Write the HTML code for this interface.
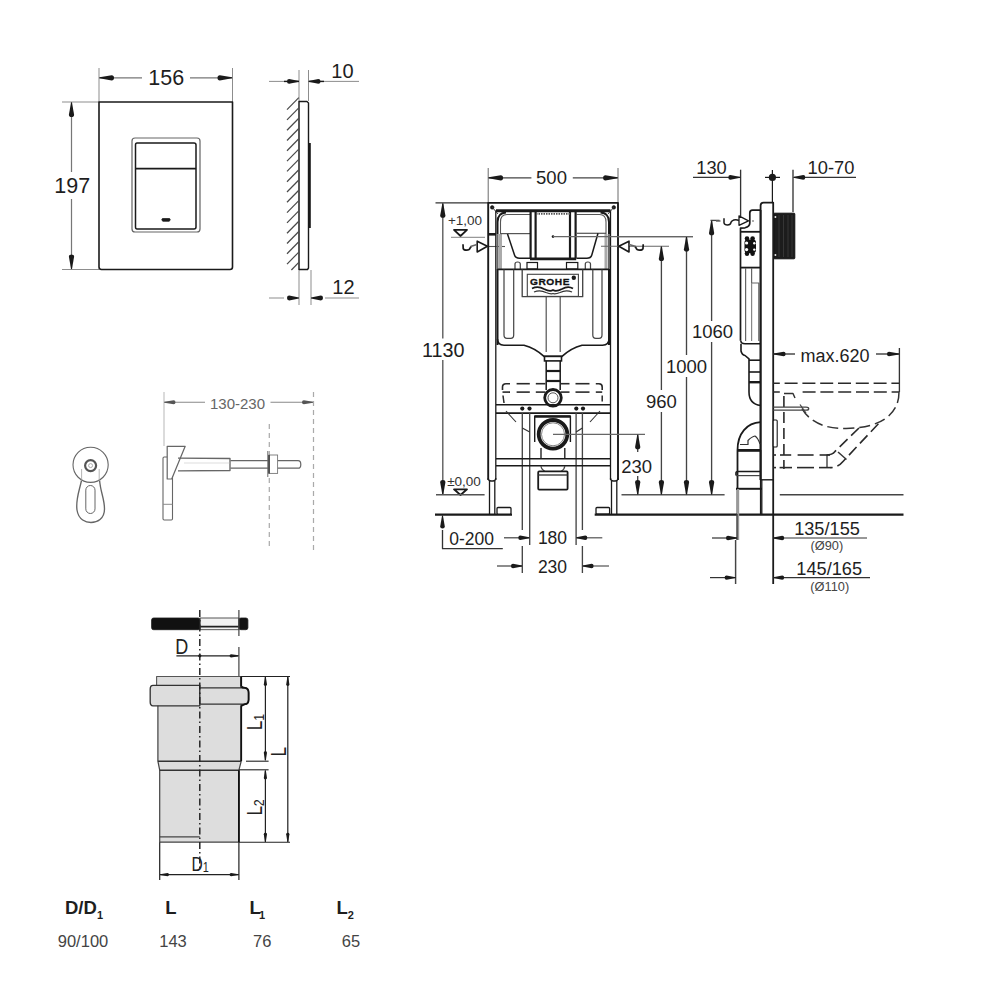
<!DOCTYPE html>
<html><head><meta charset="utf-8"><style>html,body{margin:0;padding:0;background:#fff;}svg{display:block;}</style></head>
<body><svg width="1000" height="1000" viewBox="0 0 1000 1000">
<rect width="1000" height="1000" fill="#fff"/>
<line x1="99" y1="68" x2="99" y2="102" stroke="#8a8a8a" stroke-width="0.98" stroke-linecap="butt"/>
<line x1="232.5" y1="68" x2="232.5" y2="102" stroke="#8a8a8a" stroke-width="0.98" stroke-linecap="butt"/>
<line x1="62" y1="102" x2="99" y2="102" stroke="#8a8a8a" stroke-width="0.98" stroke-linecap="butt"/>
<line x1="62" y1="269.5" x2="99" y2="269.5" stroke="#8a8a8a" stroke-width="0.98" stroke-linecap="butt"/>
<line x1="99" y1="77.8" x2="142" y2="77.8" stroke="#777" stroke-width="1.22" stroke-linecap="butt"/>
<line x1="190" y1="77.8" x2="232.5" y2="77.8" stroke="#777" stroke-width="1.22" stroke-linecap="butt"/>
<path d="M0,-0.45 L12.16,-2.60 Q14.50,-2.60 14.50,0 Q14.50,2.60 12.16,2.60 L0,0.45 Z" fill="#1a1a1a" stroke="none" transform="translate(99.5,77.8) rotate(0)"/>
<path d="M0,-0.45 L12.16,-2.60 Q14.50,-2.60 14.50,0 Q14.50,2.60 12.16,2.60 L0,0.45 Z" fill="#1a1a1a" stroke="none" transform="translate(232,77.8) rotate(180)"/>
<text x="166.3" y="85.2" font-family="Liberation Sans" font-size="21.5" text-anchor="middle" font-weight="normal" fill="#1e1e1e">156</text>
<line x1="71.5" y1="102" x2="71.5" y2="172" stroke="#777" stroke-width="1.22" stroke-linecap="butt"/>
<line x1="71.5" y1="199" x2="71.5" y2="269.5" stroke="#777" stroke-width="1.22" stroke-linecap="butt"/>
<path d="M0,-0.45 L12.16,-2.60 Q14.50,-2.60 14.50,0 Q14.50,2.60 12.16,2.60 L0,0.45 Z" fill="#1a1a1a" stroke="none" transform="translate(71.5,102.5) rotate(90)"/>
<path d="M0,-0.45 L12.16,-2.60 Q14.50,-2.60 14.50,0 Q14.50,2.60 12.16,2.60 L0,0.45 Z" fill="#1a1a1a" stroke="none" transform="translate(71.5,269) rotate(-90)"/>
<text x="72.3" y="193.2" font-family="Liberation Sans" font-size="21.5" text-anchor="middle" font-weight="normal" fill="#1e1e1e">197</text>
<path d="M99,102 L232.5,102 L232.5,267 Q232.5,269.5 230,269.5 L101.5,269.5 Q99,269.5 99,267 Z" fill="none" stroke="#1a1a1a" stroke-width="1.6" stroke-linejoin="round"/>
<path d="M135,138 L197,138 Q200,138 200,141 L200,229 Q200,232 197,232 L135,232 Q132,232 132,229 L132,141 Q132,138 135,138 Z" fill="none" stroke="#666" stroke-width="1.22" stroke-linejoin="round"/>
<path d="M137,143 L194,143 Q196,143 196,145 L196,227 Q196,229 194,229 L137,229 Q135.5,229 135.5,227 L135.5,145 Q135.5,143 137,143 Z" fill="none" stroke="#1a1a1a" stroke-width="1.5" stroke-linejoin="round"/>
<line x1="135.5" y1="168.6" x2="196" y2="168.6" stroke="#1a1a1a" stroke-width="1.6" stroke-linecap="butt"/>
<path d="M162.5,218.5 L169.5,218.5 Q170.5,218.5 170,220.5 L169,221.3 L163,221.3 L162,220.5 Q161.5,218.5 162.5,218.5 Z" fill="#1a1a1a" stroke="#1a1a1a" stroke-width="0.73" stroke-linejoin="round"/>
<line x1="299" y1="70" x2="299" y2="101" stroke="#8a8a8a" stroke-width="0.98" stroke-linecap="butt"/>
<line x1="308.5" y1="70" x2="308.5" y2="101" stroke="#8a8a8a" stroke-width="0.98" stroke-linecap="butt"/>
<line x1="299" y1="270" x2="299" y2="305" stroke="#8a8a8a" stroke-width="0.98" stroke-linecap="butt"/>
<line x1="311" y1="270" x2="311" y2="305" stroke="#8a8a8a" stroke-width="0.98" stroke-linecap="butt"/>
<line x1="269" y1="81.4" x2="284" y2="81.4" stroke="#8a8a8a" stroke-width="0.98" stroke-linecap="butt"/>
<line x1="324" y1="81.4" x2="359" y2="81.4" stroke="#8a8a8a" stroke-width="0.98" stroke-linecap="butt"/>
<line x1="284" y1="81.4" x2="299" y2="81.4" stroke="#1a1a1a" stroke-width="1.46" stroke-linecap="butt"/>
<line x1="309" y1="81.4" x2="324" y2="81.4" stroke="#1a1a1a" stroke-width="1.46" stroke-linecap="butt"/>
<path d="M0,-0.45 L9.84,-2.40 Q12.00,-2.40 12.00,0 Q12.00,2.40 9.84,2.40 L0,0.45 Z" fill="#1a1a1a" stroke="none" transform="translate(299,81.4) rotate(180)"/>
<path d="M0,-0.45 L9.84,-2.40 Q12.00,-2.40 12.00,0 Q12.00,2.40 9.84,2.40 L0,0.45 Z" fill="#1a1a1a" stroke="none" transform="translate(308.5,81.4) rotate(0)"/>
<text x="342.4" y="78" font-family="Liberation Sans" font-size="20" text-anchor="middle" font-weight="normal" fill="#1e1e1e">10</text>
<line x1="269" y1="298" x2="284" y2="298" stroke="#8a8a8a" stroke-width="0.98" stroke-linecap="butt"/>
<line x1="325" y1="298" x2="359" y2="298" stroke="#8a8a8a" stroke-width="0.98" stroke-linecap="butt"/>
<path d="M0,-0.45 L9.84,-2.40 Q12.00,-2.40 12.00,0 Q12.00,2.40 9.84,2.40 L0,0.45 Z" fill="#1a1a1a" stroke="none" transform="translate(299,298) rotate(180)"/>
<path d="M0,-0.45 L9.84,-2.40 Q12.00,-2.40 12.00,0 Q12.00,2.40 9.84,2.40 L0,0.45 Z" fill="#1a1a1a" stroke="none" transform="translate(311,298) rotate(0)"/>
<text x="343.4" y="293.6" font-family="Liberation Sans" font-size="20" text-anchor="middle" font-weight="normal" fill="#1e1e1e">12</text>
<line x1="299" y1="101" x2="299" y2="270" stroke="#1a1a1a" stroke-width="1.46" stroke-linecap="butt"/>
<line x1="287" y1="109.6" x2="298.8" y2="97.6" stroke="#4a4a4a" stroke-width="1.22" stroke-linecap="butt"/>
<line x1="287" y1="119.89999999999999" x2="298.8" y2="107.89999999999999" stroke="#4a4a4a" stroke-width="1.22" stroke-linecap="butt"/>
<line x1="287" y1="130.2" x2="298.8" y2="118.19999999999999" stroke="#4a4a4a" stroke-width="1.22" stroke-linecap="butt"/>
<line x1="287" y1="140.5" x2="298.8" y2="128.5" stroke="#4a4a4a" stroke-width="1.22" stroke-linecap="butt"/>
<line x1="287" y1="150.8" x2="298.8" y2="138.8" stroke="#4a4a4a" stroke-width="1.22" stroke-linecap="butt"/>
<line x1="287" y1="161.1" x2="298.8" y2="149.1" stroke="#4a4a4a" stroke-width="1.22" stroke-linecap="butt"/>
<line x1="287" y1="171.4" x2="298.8" y2="159.4" stroke="#4a4a4a" stroke-width="1.22" stroke-linecap="butt"/>
<line x1="287" y1="181.7" x2="298.8" y2="169.7" stroke="#4a4a4a" stroke-width="1.22" stroke-linecap="butt"/>
<line x1="287" y1="192.0" x2="298.8" y2="180.0" stroke="#4a4a4a" stroke-width="1.22" stroke-linecap="butt"/>
<line x1="287" y1="202.3" x2="298.8" y2="190.3" stroke="#4a4a4a" stroke-width="1.22" stroke-linecap="butt"/>
<line x1="287" y1="212.6" x2="298.8" y2="200.6" stroke="#4a4a4a" stroke-width="1.22" stroke-linecap="butt"/>
<line x1="287" y1="222.9" x2="298.8" y2="210.9" stroke="#4a4a4a" stroke-width="1.22" stroke-linecap="butt"/>
<line x1="287" y1="233.2" x2="298.8" y2="221.2" stroke="#4a4a4a" stroke-width="1.22" stroke-linecap="butt"/>
<line x1="287" y1="243.5" x2="298.8" y2="231.5" stroke="#4a4a4a" stroke-width="1.22" stroke-linecap="butt"/>
<line x1="287" y1="253.8" x2="298.8" y2="241.8" stroke="#4a4a4a" stroke-width="1.22" stroke-linecap="butt"/>
<line x1="287" y1="264.1" x2="298.8" y2="252.1" stroke="#4a4a4a" stroke-width="1.22" stroke-linecap="butt"/>
<line x1="291.4" y1="270" x2="298.8" y2="262.4" stroke="#4a4a4a" stroke-width="1.22" stroke-linecap="butt"/>
<path d="M299,101.5 L307,101.5 L308.5,103 L308.5,268 L307.5,269.5 L299,269.5" fill="none" stroke="#1a1a1a" stroke-width="1.4" stroke-linejoin="round"/>
<line x1="309.8" y1="143" x2="309.8" y2="228" stroke="#1a1a1a" stroke-width="2.0" stroke-linecap="butt"/>
<circle cx="90.6" cy="464.8" r="17.6" fill="none" stroke="#666" stroke-width="1.1"/>
<circle cx="90.6" cy="465.6" r="5.5" fill="none" stroke="#555" stroke-width="2.2"/>
<circle cx="90.6" cy="465.6" r="2" fill="none" stroke="#999" stroke-width="0.8"/>
<path d="M81.5,480.5 C79,492 75.5,500 77,510 C78.5,520 86,522.5 91,522.5 C97,522.5 104.5,519 104.5,509 C104.5,499 100.5,492 99.6,480.5" fill="none" stroke="#666" stroke-width="1.34" stroke-linejoin="round"/>
<path d="M81.6,469 L81.6,481 M99.2,469 L99.2,481" fill="none" stroke="#999" stroke-width="0.73" stroke-linejoin="round"/>
<rect x="85.8" y="485.5" width="9.2" height="28" rx="4.6" fill="none" stroke="#666" stroke-width="1"/>
<line x1="164" y1="392" x2="164" y2="446" stroke="#aaa" stroke-width="0.85" stroke-linecap="butt"/>
<line x1="164" y1="402.2" x2="205" y2="402.2" stroke="#888" stroke-width="1.1" stroke-linecap="butt"/>
<line x1="270.5" y1="402.2" x2="313.5" y2="402.2" stroke="#888" stroke-width="1.1" stroke-linecap="butt"/>
<path d="M0,-0.45 L9.20,-2.00 Q11.00,-2.00 11.00,0 Q11.00,2.00 9.20,2.00 L0,0.45 Z" fill="#555" stroke="none" transform="translate(164.5,402.2) rotate(0)"/>
<path d="M0,-0.45 L9.20,-2.00 Q11.00,-2.00 11.00,0 Q11.00,2.00 9.20,2.00 L0,0.45 Z" fill="#555" stroke="none" transform="translate(313,402.2) rotate(180)"/>
<text x="237.5" y="408.8" font-family="Liberation Sans" font-size="15" text-anchor="middle" font-weight="normal" fill="#666">130-230</text>
<line x1="313.5" y1="392" x2="313.5" y2="550" stroke="#aaa" stroke-width="1.22" stroke-linecap="butt" stroke-dasharray="5,4"/>
<line x1="269.3" y1="424" x2="269.3" y2="548" stroke="#aaa" stroke-width="1.22" stroke-linecap="butt" stroke-dasharray="5,4"/>
<rect x="163" y="457" width="9.5" height="63" rx="1.2" fill="none" stroke="#666" stroke-width="1.1"/>
<line x1="163" y1="504.3" x2="172.5" y2="504.3" stroke="#888" stroke-width="0.98" stroke-linecap="butt"/>
<path d="M167.2,479 L167.2,446.3 L185.2,446.3 L171.7,479 Z" fill="white" stroke="#666" stroke-width="1.22" stroke-linejoin="round"/>
<path d="M178,458.2 L230,458.5 L230,470.5 L178,470.8" fill="none" stroke="#666" stroke-width="1.34" stroke-linejoin="round"/>
<line x1="184" y1="463" x2="230" y2="463" stroke="#bbb" stroke-width="0.49" stroke-linecap="butt"/>
<path d="M230.5,460.6 L298,460.6 Q300.8,460.6 300.8,464.4 Q300.8,468.2 298,468.2 L230.5,468.2" fill="none" stroke="#666" stroke-width="1.22" stroke-linejoin="round"/>
<rect x="269" y="455" width="8.6" height="18.4" rx="0" fill="white" stroke="#777" stroke-width="0.9"/>
<line x1="269" y1="455" x2="269" y2="473.4" stroke="#444" stroke-width="1.8" stroke-linecap="butt"/>
<line x1="267.8" y1="451" x2="267.8" y2="477" stroke="#666" stroke-width="0.98" stroke-linecap="butt"/>
<rect x="151.6" y="618" width="48.6" height="11.7" rx="2" fill="#111" stroke="#1a1a1a" stroke-width="0.8"/>
<rect x="200.2" y="618" width="38.7" height="11.7" rx="0" fill="#f2f2f2" stroke="#444" stroke-width="0.9"/>
<line x1="200.2" y1="626.6" x2="238.9" y2="626.6" stroke="#222" stroke-width="1.6" stroke-linecap="butt"/>
<rect x="238.9" y="618" width="9" height="11.7" rx="2" fill="#111" stroke="#1a1a1a" stroke-width="0.8"/>
<line x1="238.9" y1="610" x2="238.9" y2="636" stroke="#444" stroke-width="1.22" stroke-linecap="butt"/>
<line x1="238.9" y1="647" x2="238.9" y2="703" stroke="#444" stroke-width="1.22" stroke-linecap="butt"/>
<text x="181.7" y="653.6" font-family="Liberation Sans" font-size="21.5" text-anchor="middle" font-weight="normal" fill="#222" transform="translate(181.7,0) scale(0.84,1) translate(-181.7,0)">D</text>
<line x1="176.4" y1="655.8" x2="238" y2="655.8" stroke="#222" stroke-width="1.22" stroke-linecap="butt"/>
<circle cx="199.8" cy="655.8" r="1.6" fill="#1a1a1a" stroke="#1a1a1a" stroke-width="0"/>
<path d="M0,-0.45 L7.56,-1.60 Q9.00,-1.60 9.00,0 Q9.00,1.60 7.56,1.60 L0,0.45 Z" fill="#1a1a1a" stroke="none" transform="translate(238.6,655.8) rotate(180)"/>
<path d="M157.9,700 L241.2,700 L241.2,761.2 L238.9,770.2 L238.9,842.2 L159.7,842.2 L159.7,770.2 L157.9,761.2 Z" fill="#dddddd" stroke="#444" stroke-width="1.22" stroke-linejoin="round"/>
<path d="M156.6,690 L156.6,676.5 L240.7,676.5 L240.7,690" fill="#dddddd" stroke="#555" stroke-width="1.1" stroke-linejoin="round"/>
<path d="M153,685.4 L199.8,685.4 L199.8,705.8 L153,705.8 Q150.2,705.8 150.2,702 L150.2,689.2 Q150.2,685.4 153,685.4 Z" fill="#dddddd" stroke="#333" stroke-width="1.34" stroke-linejoin="round"/>
<path d="M199.8,687.8 L244.5,687.8 Q248.6,687.8 248.6,692 L248.6,700 Q248.6,704.2 244.5,704.2 L199.8,704.2 Z" fill="#dddddd" stroke="#333" stroke-width="1.34" stroke-linejoin="round"/>
<line x1="157.9" y1="761.2" x2="241.2" y2="761.2" stroke="#333" stroke-width="1.46" stroke-linecap="butt"/>
<line x1="159.7" y1="770.2" x2="238.9" y2="770.2" stroke="#333" stroke-width="1.46" stroke-linecap="butt"/>
<line x1="159.7" y1="836.8" x2="199.8" y2="836.8" stroke="#444" stroke-width="1.22" stroke-linecap="butt"/>
<line x1="241.2" y1="676.5" x2="241.2" y2="686.5" stroke="#111" stroke-width="1.8" stroke-linecap="butt"/>
<line x1="241.2" y1="705.5" x2="241.2" y2="761" stroke="#111" stroke-width="1.8" stroke-linecap="butt"/>
<line x1="238.9" y1="770.2" x2="238.9" y2="842.2" stroke="#111" stroke-width="1.8" stroke-linecap="butt"/>
<path d="M241.2,686.5 Q242.5,687.8 245,687.9 Q248.6,688.3 248.6,693 L248.6,699.5 Q248.6,704 245,704.2 L241.2,705.8" fill="none" stroke="#111" stroke-width="1.8" stroke-linejoin="round"/>
<line x1="199.8" y1="610" x2="199.8" y2="870" stroke="#222" stroke-width="1.46" stroke-linecap="butt" stroke-dasharray="7,3,1.5,3"/>
<line x1="241" y1="676.5" x2="290" y2="676.5" stroke="#222" stroke-width="1.1" stroke-linecap="butt"/>
<line x1="265.4" y1="677" x2="265.4" y2="760.3" stroke="#222" stroke-width="1.22" stroke-linecap="butt"/>
<path d="M0,-0.45 L7.56,-1.60 Q9.00,-1.60 9.00,0 Q9.00,1.60 7.56,1.60 L0,0.45 Z" fill="#1a1a1a" stroke="none" transform="translate(265.4,677) rotate(90)"/>
<path d="M0,-0.45 L7.56,-1.60 Q9.00,-1.60 9.00,0 Q9.00,1.60 7.56,1.60 L0,0.45 Z" fill="#1a1a1a" stroke="none" transform="translate(265.4,760.3) rotate(-90)"/>
<line x1="246" y1="761.2" x2="268.6" y2="761.2" stroke="#222" stroke-width="1.1" stroke-linecap="butt"/>
<line x1="239" y1="769.8" x2="268.6" y2="769.8" stroke="#222" stroke-width="1.1" stroke-linecap="butt"/>
<line x1="265.4" y1="770.5" x2="265.4" y2="842" stroke="#222" stroke-width="1.22" stroke-linecap="butt"/>
<path d="M0,-0.45 L7.56,-1.60 Q9.00,-1.60 9.00,0 Q9.00,1.60 7.56,1.60 L0,0.45 Z" fill="#1a1a1a" stroke="none" transform="translate(265.4,770.5) rotate(90)"/>
<path d="M0,-0.45 L7.56,-1.60 Q9.00,-1.60 9.00,0 Q9.00,1.60 7.56,1.60 L0,0.45 Z" fill="#1a1a1a" stroke="none" transform="translate(265.4,841.7) rotate(-90)"/>
<line x1="287.8" y1="677" x2="287.8" y2="842" stroke="#222" stroke-width="1.22" stroke-linecap="butt"/>
<path d="M0,-0.45 L7.56,-1.60 Q9.00,-1.60 9.00,0 Q9.00,1.60 7.56,1.60 L0,0.45 Z" fill="#1a1a1a" stroke="none" transform="translate(287.8,677) rotate(90)"/>
<path d="M0,-0.45 L7.56,-1.60 Q9.00,-1.60 9.00,0 Q9.00,1.60 7.56,1.60 L0,0.45 Z" fill="#1a1a1a" stroke="none" transform="translate(287.8,841.7) rotate(-90)"/>
<line x1="239" y1="842.2" x2="290" y2="842.2" stroke="#222" stroke-width="1.1" stroke-linecap="butt"/>
<text x="0" y="0" font-family="Liberation Sans" font-size="21.3" fill="#222" transform="translate(262,730.3) rotate(-90) scale(0.8,1)"><tspan>L</tspan><tspan font-size="15.5" dy="2">1</tspan></text>
<text x="0" y="0" font-family="Liberation Sans" font-size="21.3" fill="#222" transform="translate(285.5,756.6) rotate(-90) scale(0.8,1)"><tspan>L</tspan></text>
<text x="0" y="0" font-family="Liberation Sans" font-size="21.3" fill="#222" transform="translate(261.5,815.6) rotate(-90) scale(0.8,1)"><tspan>L</tspan><tspan font-size="15.5" dy="2">2</tspan></text>
<line x1="159.7" y1="842.2" x2="159.7" y2="880" stroke="#222" stroke-width="1.22" stroke-linecap="butt"/>
<line x1="238.9" y1="842.2" x2="238.9" y2="880" stroke="#222" stroke-width="1.22" stroke-linecap="butt"/>
<line x1="160" y1="874.6" x2="238.6" y2="874.6" stroke="#222" stroke-width="1.22" stroke-linecap="butt"/>
<path d="M0,-0.45 L7.56,-1.60 Q9.00,-1.60 9.00,0 Q9.00,1.60 7.56,1.60 L0,0.45 Z" fill="#1a1a1a" stroke="none" transform="translate(160,874.6) rotate(0)"/>
<path d="M0,-0.45 L7.56,-1.60 Q9.00,-1.60 9.00,0 Q9.00,1.60 7.56,1.60 L0,0.45 Z" fill="#1a1a1a" stroke="none" transform="translate(238.6,874.6) rotate(180)"/>
<text x="0" y="0" font-family="Liberation Sans" font-size="20" fill="#222" transform="translate(191.4,871) scale(0.78,1)">D<tspan font-size="14" dy="1">1</tspan></text>
<text x="65" y="914" font-family="Liberation Sans" font-size="18.5" font-weight="bold" fill="#1e1e1e">D/D<tspan font-size="11" dy="5">1</tspan></text>
<text x="171" y="914" font-family="Liberation Sans" font-size="18.5" text-anchor="middle" font-weight="bold" fill="#1e1e1e">L</text>
<text x="249.5" y="914" font-family="Liberation Sans" font-size="18.5" font-weight="bold" fill="#1e1e1e">L<tspan font-size="11" dy="5" dx="-1.8">1</tspan></text>
<text x="336.5" y="914" font-family="Liberation Sans" font-size="18.5" font-weight="bold" fill="#1e1e1e">L<tspan font-size="11" dy="5">2</tspan></text>
<text x="83" y="947" font-family="Liberation Sans" font-size="16.5" text-anchor="middle" font-weight="normal" fill="#444">90/100</text>
<text x="173" y="947" font-family="Liberation Sans" font-size="16.5" text-anchor="middle" font-weight="normal" fill="#444">143</text>
<text x="262.3" y="947" font-family="Liberation Sans" font-size="16.5" text-anchor="middle" font-weight="normal" fill="#444">76</text>
<text x="351" y="947" font-family="Liberation Sans" font-size="16.5" text-anchor="middle" font-weight="normal" fill="#444">65</text>
<line x1="488.2" y1="168" x2="488.2" y2="203" stroke="#666" stroke-width="0.98" stroke-linecap="butt"/>
<line x1="618" y1="168" x2="618" y2="203" stroke="#666" stroke-width="0.98" stroke-linecap="butt"/>
<line x1="488.5" y1="177.8" x2="531.4" y2="177.8" stroke="#444" stroke-width="1.22" stroke-linecap="butt"/>
<line x1="572.8" y1="177.8" x2="617.7" y2="177.8" stroke="#444" stroke-width="1.22" stroke-linecap="butt"/>
<path d="M0,-0.45 L12.16,-2.60 Q14.50,-2.60 14.50,0 Q14.50,2.60 12.16,2.60 L0,0.45 Z" fill="#1a1a1a" stroke="none" transform="translate(488.6,177.8) rotate(0)"/>
<path d="M0,-0.45 L12.16,-2.60 Q14.50,-2.60 14.50,0 Q14.50,2.60 12.16,2.60 L0,0.45 Z" fill="#1a1a1a" stroke="none" transform="translate(617.6,177.8) rotate(180)"/>
<text x="551.5" y="184.3" font-family="Liberation Sans" font-size="18.5" text-anchor="middle" font-weight="normal" fill="#1e1e1e">500</text>
<line x1="435.5" y1="202.9" x2="488.2" y2="202.9" stroke="#333" stroke-width="1.34" stroke-linecap="butt"/>
<line x1="442.8" y1="203.5" x2="442.8" y2="338.4" stroke="#555" stroke-width="1.34" stroke-linecap="butt"/>
<line x1="442.8" y1="360" x2="442.8" y2="494.5" stroke="#555" stroke-width="1.34" stroke-linecap="butt"/>
<path d="M0,-0.45 L12.16,-2.60 Q14.50,-2.60 14.50,0 Q14.50,2.60 12.16,2.60 L0,0.45 Z" fill="#1a1a1a" stroke="none" transform="translate(442.8,203.3) rotate(90)"/>
<path d="M0,-0.45 L12.16,-2.60 Q14.50,-2.60 14.50,0 Q14.50,2.60 12.16,2.60 L0,0.45 Z" fill="#1a1a1a" stroke="none" transform="translate(442.8,494.6) rotate(-90)"/>
<text x="443.2" y="357.3" font-family="Liberation Sans" font-size="19.8" text-anchor="middle" font-weight="normal" fill="#1e1e1e">1130</text>
<text x="465" y="225" font-family="Liberation Sans" font-size="13.5" text-anchor="middle" font-weight="normal" fill="#333">+1,00</text>
<path d="M454,229.8 L467,229.8 L460.5,236 Z" fill="white" stroke="#1a1a1a" stroke-width="1.8" stroke-linejoin="round"/>
<line x1="451" y1="237.3" x2="485" y2="237.3" stroke="#999" stroke-width="1.3" stroke-linecap="butt"/>
<path d="M487.4,246.3 L477.2,241.2 L477.2,252 Z" fill="white" stroke="#1a1a1a" stroke-width="1.6" stroke-linejoin="round"/>
<path d="M463,244.3 L463.2,248.5 Q463.6,250.2 466.5,250.2 Q469.6,250.2 470.3,247.6 L471.2,246.6" fill="none" stroke="#1a1a1a" stroke-width="1.7" stroke-linejoin="round"/>
<line x1="470.5" y1="246.4" x2="477" y2="244.4" stroke="#666" stroke-width="1.6" stroke-linecap="butt"/>
<line x1="488" y1="246.5" x2="505" y2="246.5" stroke="#555" stroke-width="1.1" stroke-linecap="butt"/>
<text x="464" y="486" font-family="Liberation Sans" font-size="13.5" text-anchor="middle" font-weight="normal" fill="#333">±0,00</text>
<path d="M454,489.3 L467,489.3 L460.5,495 Z" fill="white" stroke="#1a1a1a" stroke-width="1.8" stroke-linejoin="round"/>
<line x1="436" y1="494.8" x2="484.6" y2="494.8" stroke="#555" stroke-width="1.46" stroke-linecap="butt"/>
<line x1="435" y1="514.6" x2="512" y2="514.6" stroke="#1a1a1a" stroke-width="2.2" stroke-linecap="butt"/>
<line x1="442.5" y1="530" x2="442.5" y2="548.7" stroke="#333" stroke-width="1.34" stroke-linecap="butt"/>
<line x1="442" y1="548.7" x2="502.8" y2="548.7" stroke="#333" stroke-width="1.34" stroke-linecap="butt"/>
<path d="M0,-0.45 L10.93,-2.30 Q13.00,-2.30 13.00,0 Q13.00,2.30 10.93,2.30 L0,0.45 Z" fill="#1a1a1a" stroke="none" transform="translate(442.5,515.5) rotate(90)"/>
<text x="471.7" y="545.4" font-family="Liberation Sans" font-size="17.5" text-anchor="middle" font-weight="normal" fill="#1e1e1e">0-200</text>
<path d="M488.2,480 L488.2,202.9 L618,202.9 L618,480" fill="none" stroke="#1a1a1a" stroke-width="1.9" stroke-linejoin="round"/>
<path d="M495.8,480 L495.8,210.5" fill="none" stroke="#1a1a1a" stroke-width="1.3" stroke-linejoin="round"/>
<path d="M610.5,210.5 L610.5,480" fill="none" stroke="#1a1a1a" stroke-width="1.3" stroke-linejoin="round"/>
<path d="M488.2,478 Q488.2,481 491,481 L493,481 Q495.8,481 495.8,478" fill="none" stroke="#1a1a1a" stroke-width="1.3" stroke-linejoin="round"/>
<path d="M610.5,478 Q610.5,481 613.3,481 L615.2,481 Q618,481 618,478" fill="none" stroke="#1a1a1a" stroke-width="1.3" stroke-linejoin="round"/>
<line x1="489.5" y1="481" x2="489.5" y2="514" stroke="#1a1a1a" stroke-width="1.3" stroke-linecap="butt"/>
<line x1="494.8" y1="481" x2="494.8" y2="514" stroke="#1a1a1a" stroke-width="1.3" stroke-linecap="butt"/>
<line x1="611.5" y1="481" x2="611.5" y2="514" stroke="#1a1a1a" stroke-width="1.3" stroke-linecap="butt"/>
<line x1="616.8" y1="481" x2="616.8" y2="514" stroke="#1a1a1a" stroke-width="1.3" stroke-linecap="butt"/>
<rect x="497" y="507.5" width="14" height="6.6" rx="1" fill="white" stroke="#1a1a1a" stroke-width="1.3"/>
<rect x="596" y="507.5" width="13.6" height="6.6" rx="1" fill="white" stroke="#1a1a1a" stroke-width="1.3"/>
<line x1="594.7" y1="514.6" x2="903.5" y2="514.6" stroke="#1a1a1a" stroke-width="2.2" stroke-linecap="butt"/>
<line x1="496" y1="210.8" x2="610.5" y2="210.8" stroke="#1a1a1a" stroke-width="3.0" stroke-linecap="butt"/>
<circle cx="492.2" cy="207.4" r="1.8" fill="#1a1a1a" stroke="#1a1a1a" stroke-width="0.6"/>
<circle cx="613.8" cy="207.4" r="1.8" fill="#1a1a1a" stroke="#1a1a1a" stroke-width="0.6"/>
<line x1="492" y1="207" x2="498" y2="214" stroke="#333" stroke-width="0.98" stroke-linecap="butt"/>
<line x1="614" y1="207" x2="608" y2="214" stroke="#333" stroke-width="0.98" stroke-linecap="butt"/>
<line x1="488.2" y1="234.3" x2="496" y2="234.3" stroke="#1a1a1a" stroke-width="2.6" stroke-linecap="butt"/>
<path d="M497.5,345 L497.5,269 M497.5,234.5 L497.5,222 Q497.5,213 506,212.5" fill="none" stroke="#1a1a1a" stroke-width="2.0" stroke-linejoin="round"/>
<path d="M609,345 L609,269 M609,234.5 L609,222 Q609,213 600.5,212.5" fill="none" stroke="#1a1a1a" stroke-width="2.0" stroke-linejoin="round"/>
<line x1="497.5" y1="234.5" x2="497.5" y2="269" stroke="#666" stroke-width="2.0" stroke-linecap="butt"/>
<line x1="609" y1="234.5" x2="609" y2="269" stroke="#666" stroke-width="2.0" stroke-linecap="butt"/>
<rect x="499" y="234" width="3" height="35" fill="#aaa"/>
<rect x="604.5" y="234" width="3" height="35" fill="#aaa"/>
<path d="M500.5,234 L500.5,222 Q500.5,214.5 507,214.5 L530,214.5" fill="none" stroke="#555" stroke-width="1.1" stroke-linejoin="round"/>
<line x1="500.5" y1="233.6" x2="530" y2="233.6" stroke="#555" stroke-width="1.22" stroke-linecap="butt"/>
<path d="M507.5,234 L514.5,255 Q515.5,258.3 519.5,258.3 L530,258.3" fill="none" stroke="#1a1a1a" stroke-width="1.5" stroke-linejoin="round"/>
<path d="M606,234 L606,222 Q606,214.5 599.5,214.5 L576.5,214.5" fill="none" stroke="#555" stroke-width="1.1" stroke-linejoin="round"/>
<line x1="577" y1="233.3" x2="606" y2="233.3" stroke="#555" stroke-width="1.22" stroke-linecap="butt"/>
<path d="M598,233.3 L591.8,255 Q590.8,258.3 586.8,258.3 L576.5,258.3" fill="none" stroke="#1a1a1a" stroke-width="1.5" stroke-linejoin="round"/>
<line x1="530.6" y1="212" x2="530.6" y2="258.5" stroke="#1a1a1a" stroke-width="2.2" stroke-linecap="butt"/>
<line x1="535.6" y1="212" x2="535.6" y2="258.5" stroke="#1a1a1a" stroke-width="2.2" stroke-linecap="butt"/>
<line x1="570" y1="212" x2="570" y2="258.5" stroke="#1a1a1a" stroke-width="2.2" stroke-linecap="butt"/>
<line x1="575.6" y1="212" x2="575.6" y2="258.5" stroke="#1a1a1a" stroke-width="2.2" stroke-linecap="butt"/>
<line x1="530" y1="258.8" x2="576.2" y2="258.8" stroke="#1a1a1a" stroke-width="2.8" stroke-linecap="butt"/>
<line x1="536" y1="213.8" x2="570" y2="213.8" stroke="#555" stroke-width="1.8" stroke-linecap="butt" stroke-dasharray="1.5,1"/>
<circle cx="553" cy="236.6" r="1.3" fill="#1a1a1a" stroke="#1a1a1a" stroke-width="0"/>
<line x1="553" y1="236.6" x2="693" y2="236.6" stroke="#666" stroke-width="1.1" stroke-linecap="butt"/>
<line x1="601" y1="246.2" x2="669" y2="246.2" stroke="#666" stroke-width="1.1" stroke-linecap="butt"/>
<path d="M618.8,246.3 L629,241.2 L629,252 Z" fill="white" stroke="#1a1a1a" stroke-width="1.6" stroke-linejoin="round"/>
<path d="M643.2,244.3 L643,248.5 Q642.6,250.2 639.7,250.2 Q636.6,250.2 635.9,247.6 L635,246.6" fill="none" stroke="#1a1a1a" stroke-width="1.7" stroke-linejoin="round"/>
<line x1="635.7" y1="246.4" x2="629.2" y2="244.4" stroke="#666" stroke-width="1.6" stroke-linecap="butt"/>
<path d="M515,269 L515,264 Q515,262 517.6,262 Q520.3,262 520.3,264 L520.3,269" fill="none" stroke="#444" stroke-width="1.22" stroke-linejoin="round"/>
<rect x="527" y="262.5" width="10.5" height="6.5" rx="0" fill="white" stroke="#1a1a1a" stroke-width="1.2"/>
<rect x="566.5" y="262.5" width="11.3" height="6.5" rx="0" fill="white" stroke="#1a1a1a" stroke-width="1.2"/>
<path d="M585.3,269 L585.3,264 Q585.3,262 587.9,262 Q590.5,262 590.5,264 L590.5,269" fill="none" stroke="#444" stroke-width="1.22" stroke-linejoin="round"/>
<line x1="497.5" y1="269.4" x2="609" y2="269.4" stroke="#1a1a1a" stroke-width="1.8" stroke-linecap="butt"/>
<path d="M497.5,339 Q497.5,345.2 504,345.2 L524,345.2 Q535,348 544,356.4 L562,356.4 Q571,348 582,345.2 L602.5,345.2 Q609,345.2 609,339" fill="none" stroke="#1a1a1a" stroke-width="1.6" stroke-linejoin="round"/>
<path d="M504,269.5 L504,335 Q504,338.3 507,338.3 L510.7,338.3 Q513.7,338.3 513.7,335 L513.7,269.5" fill="none" stroke="#444" stroke-width="1.22" stroke-linejoin="round"/>
<path d="M592.8,269.5 L592.8,335 Q592.8,338.3 595.8,338.3 L599,338.3 Q602,338.3 602,335 L602,269.5" fill="none" stroke="#444" stroke-width="1.22" stroke-linejoin="round"/>
<line x1="546.2" y1="297" x2="546.2" y2="352" stroke="#555" stroke-width="1.22" stroke-linecap="butt"/>
<line x1="560.2" y1="297" x2="560.2" y2="352" stroke="#555" stroke-width="1.22" stroke-linecap="butt"/>
<path d="M522.2,269.5 L522.2,296.7 L582.7,296.7 L582.7,269.5" fill="none" stroke="#444" stroke-width="1.34" stroke-linejoin="round"/>
<rect x="527.3" y="274.3" width="51.1" height="22.1" rx="0" fill="none" stroke="#444" stroke-width="1.1"/>
<text x="550" y="284.9" font-family="Liberation Sans" font-size="9.8" text-anchor="middle" font-weight="bold" fill="#111" stroke="#111" stroke-width="0.3" letter-spacing="0.55" transform="translate(550,0) scale(1.04,1.0) translate(-550,0)">GROHE</text>
<circle cx="573.8" cy="277.8" r="2.2" fill="#1a1a1a" stroke="#1a1a1a" stroke-width="0"/>
<path d="M532,288.5 Q538,285.5 544,289 Q550,292 553,290 Q556,292 562,289 Q568,285.5 573,288.5" fill="none" stroke="#1a1a1a" stroke-width="1.8" stroke-linejoin="round"/>
<path d="M534,292 Q540,289.5 546,292.5 Q551,294.5 553,293.5 Q555,294.5 560,292.5 Q566,289.5 572,292" fill="none" stroke="#333" stroke-width="1.3" stroke-linejoin="round"/>
<rect x="544.5" y="356.4" width="17" height="4.5" rx="0" fill="white" stroke="#1a1a1a" stroke-width="1.6"/>
<path d="M546.2,361 L546.2,390 M560.2,361 L560.2,390" fill="none" stroke="#1a1a1a" stroke-width="1.5" stroke-linejoin="round"/>
<line x1="546.2" y1="371" x2="560.2" y2="371" stroke="#1a1a1a" stroke-width="2.2" stroke-linecap="butt"/>
<line x1="546.2" y1="381" x2="560.2" y2="381" stroke="#1a1a1a" stroke-width="2.2" stroke-linecap="butt"/>
<line x1="516.6" y1="383.7" x2="529.8" y2="383.7" stroke="#2a2a2a" stroke-width="1.6" stroke-linecap="butt"/>
<line x1="516.6" y1="392.1" x2="529.8" y2="392.1" stroke="#2a2a2a" stroke-width="1.6" stroke-linecap="butt"/>
<line x1="535.8" y1="383.7" x2="545.4" y2="383.7" stroke="#2a2a2a" stroke-width="1.6" stroke-linecap="butt"/>
<line x1="535.8" y1="392.1" x2="545.4" y2="392.1" stroke="#2a2a2a" stroke-width="1.6" stroke-linecap="butt"/>
<line x1="560.5" y1="383.7" x2="569.5" y2="383.7" stroke="#2a2a2a" stroke-width="1.6" stroke-linecap="butt"/>
<line x1="560.5" y1="392.1" x2="569.5" y2="392.1" stroke="#2a2a2a" stroke-width="1.6" stroke-linecap="butt"/>
<line x1="575.5" y1="383.7" x2="589.5" y2="383.7" stroke="#2a2a2a" stroke-width="1.6" stroke-linecap="butt"/>
<line x1="575.5" y1="392.1" x2="589.5" y2="392.1" stroke="#2a2a2a" stroke-width="1.6" stroke-linecap="butt"/>
<line x1="502.5" y1="392.1" x2="510" y2="392.1" stroke="#2a2a2a" stroke-width="1.6" stroke-linecap="butt"/>
<line x1="595.8" y1="392.1" x2="602.2" y2="392.1" stroke="#2a2a2a" stroke-width="1.6" stroke-linecap="butt"/>
<path d="M502.5,390 L502.5,387 Q502.5,383.7 506,383.7 L510,383.7" fill="none" stroke="#2a2a2a" stroke-width="1.6" stroke-linejoin="round"/>
<path d="M595.8,383.7 L599,383.7 Q602.2,383.7 602.2,387 L602.2,390" fill="none" stroke="#2a2a2a" stroke-width="1.6" stroke-linejoin="round"/>
<line x1="503" y1="395.5" x2="504" y2="403" stroke="#2a2a2a" stroke-width="1.5" stroke-linecap="butt"/>
<line x1="602.2" y1="395.5" x2="602.2" y2="401.5" stroke="#2a2a2a" stroke-width="1.5" stroke-linecap="butt"/>
<circle cx="553" cy="397.8" r="8.3" fill="white" stroke="#1a1a1a" stroke-width="2.8"/>
<circle cx="553" cy="397.8" r="5" fill="none" stroke="#555" stroke-width="1.0"/>
<line x1="496" y1="404.7" x2="610.5" y2="404.7" stroke="#1a1a1a" stroke-width="1.6" stroke-linecap="butt"/>
<line x1="496" y1="413.1" x2="610.5" y2="413.1" stroke="#1a1a1a" stroke-width="1.6" stroke-linecap="butt"/>
<circle cx="522.3" cy="408.6" r="2.1" fill="#1a1a1a" stroke="#1a1a1a" stroke-width="0"/>
<circle cx="529.5" cy="408.6" r="2.1" fill="#1a1a1a" stroke="#1a1a1a" stroke-width="0"/>
<circle cx="576.3" cy="408.6" r="2.1" fill="#1a1a1a" stroke="#1a1a1a" stroke-width="0"/>
<circle cx="583" cy="408.6" r="2.1" fill="#1a1a1a" stroke="#1a1a1a" stroke-width="0"/>
<line x1="506" y1="411" x2="516" y2="422" stroke="#333" stroke-width="1.1" stroke-linecap="butt"/>
<line x1="600" y1="411" x2="590" y2="422" stroke="#333" stroke-width="1.1" stroke-linecap="butt"/>
<line x1="522.3" y1="413" x2="522.3" y2="530" stroke="#444" stroke-width="1.34" stroke-linecap="butt"/>
<line x1="522.3" y1="546" x2="522.3" y2="573" stroke="#444" stroke-width="1.34" stroke-linecap="butt"/>
<line x1="529.7" y1="413" x2="529.7" y2="545" stroke="#444" stroke-width="1.34" stroke-linecap="butt"/>
<line x1="576.1" y1="413" x2="576.1" y2="545" stroke="#444" stroke-width="1.34" stroke-linecap="butt"/>
<line x1="582.4" y1="413" x2="582.4" y2="530" stroke="#444" stroke-width="1.34" stroke-linecap="butt"/>
<line x1="582.4" y1="546" x2="582.4" y2="573" stroke="#444" stroke-width="1.34" stroke-linecap="butt"/>
<line x1="522.3" y1="428" x2="529.7" y2="432" stroke="#333" stroke-width="1.22" stroke-linecap="butt"/>
<line x1="582.4" y1="428" x2="576.1" y2="432" stroke="#333" stroke-width="1.22" stroke-linecap="butt"/>
<path d="M534.7,442 L534.7,416 L570.4,416 L570.4,442" fill="none" stroke="#1a1a1a" stroke-width="1.4" stroke-linejoin="round"/>
<line x1="535" y1="416.6" x2="570" y2="416.6" stroke="#1a1a1a" stroke-width="2.4" stroke-linecap="butt"/>
<circle cx="553" cy="434.3" r="14.3" fill="white" stroke="#1a1a1a" stroke-width="3.8"/>
<circle cx="553" cy="434.3" r="11.5" fill="none" stroke="#666" stroke-width="0.8"/>
<line x1="553" y1="434.3" x2="645" y2="434.3" stroke="#666" stroke-width="1.22" stroke-linecap="butt"/>
<line x1="541" y1="448" x2="541" y2="459" stroke="#1a1a1a" stroke-width="1.34" stroke-linecap="butt"/>
<line x1="564.8" y1="448" x2="564.8" y2="459" stroke="#1a1a1a" stroke-width="1.34" stroke-linecap="butt"/>
<line x1="496" y1="458.8" x2="610.5" y2="458.8" stroke="#1a1a1a" stroke-width="1.6" stroke-linecap="butt"/>
<line x1="496" y1="465.8" x2="610.5" y2="465.8" stroke="#1a1a1a" stroke-width="1.6" stroke-linecap="butt"/>
<path d="M541,466 Q541,469 545,471.4 M564.8,466 Q564.8,469 561,471.4" fill="none" stroke="#444" stroke-width="1.22" stroke-linejoin="round"/>
<rect x="538.2" y="471.4" width="29.4" height="18.2" rx="1" fill="white" stroke="#1a1a1a" stroke-width="1.8"/>
<line x1="538.2" y1="475" x2="567.6" y2="475" stroke="#333" stroke-width="1.34" stroke-linecap="butt"/>
<line x1="618" y1="236.6" x2="693" y2="236.6" stroke="#666" stroke-width="1.1" stroke-linecap="butt"/>
<line x1="621.5" y1="494.8" x2="724.6" y2="494.8" stroke="#555" stroke-width="1.46" stroke-linecap="butt"/>
<line x1="637.7" y1="434.8" x2="637.7" y2="452" stroke="#444" stroke-width="1.34" stroke-linecap="butt"/>
<line x1="637.7" y1="476" x2="637.7" y2="494.5" stroke="#444" stroke-width="1.34" stroke-linecap="butt"/>
<path d="M0,-0.45 L12.16,-2.60 Q14.50,-2.60 14.50,0 Q14.50,2.60 12.16,2.60 L0,0.45 Z" fill="#1a1a1a" stroke="none" transform="translate(637.7,434.8) rotate(90)"/>
<path d="M0,-0.45 L12.16,-2.60 Q14.50,-2.60 14.50,0 Q14.50,2.60 12.16,2.60 L0,0.45 Z" fill="#1a1a1a" stroke="none" transform="translate(637.7,494.6) rotate(-90)"/>
<text x="636.7" y="472.7" font-family="Liberation Sans" font-size="18.5" text-anchor="middle" font-weight="normal" fill="#1e1e1e">230</text>
<line x1="661.4" y1="246.6" x2="661.4" y2="390" stroke="#444" stroke-width="1.34" stroke-linecap="butt"/>
<line x1="661.4" y1="412" x2="661.4" y2="494.5" stroke="#444" stroke-width="1.34" stroke-linecap="butt"/>
<path d="M0,-0.45 L12.16,-2.60 Q14.50,-2.60 14.50,0 Q14.50,2.60 12.16,2.60 L0,0.45 Z" fill="#1a1a1a" stroke="none" transform="translate(661.4,246.6) rotate(90)"/>
<path d="M0,-0.45 L12.16,-2.60 Q14.50,-2.60 14.50,0 Q14.50,2.60 12.16,2.60 L0,0.45 Z" fill="#1a1a1a" stroke="none" transform="translate(661.4,494.6) rotate(-90)"/>
<text x="661.4" y="407.8" font-family="Liberation Sans" font-size="18.5" text-anchor="middle" font-weight="normal" fill="#1e1e1e">960</text>
<line x1="686.5" y1="237" x2="686.5" y2="355" stroke="#444" stroke-width="1.34" stroke-linecap="butt"/>
<line x1="686.5" y1="377" x2="686.5" y2="494.5" stroke="#444" stroke-width="1.34" stroke-linecap="butt"/>
<path d="M0,-0.45 L12.16,-2.60 Q14.50,-2.60 14.50,0 Q14.50,2.60 12.16,2.60 L0,0.45 Z" fill="#1a1a1a" stroke="none" transform="translate(686.5,237) rotate(90)"/>
<path d="M0,-0.45 L12.16,-2.60 Q14.50,-2.60 14.50,0 Q14.50,2.60 12.16,2.60 L0,0.45 Z" fill="#1a1a1a" stroke="none" transform="translate(686.5,494.6) rotate(-90)"/>
<text x="686.5" y="372.7" font-family="Liberation Sans" font-size="18.5" text-anchor="middle" font-weight="normal" fill="#1e1e1e">1000</text>
<line x1="711.6" y1="220.8" x2="711.6" y2="321" stroke="#444" stroke-width="1.34" stroke-linecap="butt"/>
<line x1="711.6" y1="342" x2="711.6" y2="494.5" stroke="#444" stroke-width="1.34" stroke-linecap="butt"/>
<path d="M0,-0.45 L12.16,-2.60 Q14.50,-2.60 14.50,0 Q14.50,2.60 12.16,2.60 L0,0.45 Z" fill="#1a1a1a" stroke="none" transform="translate(711.6,220.8) rotate(90)"/>
<path d="M0,-0.45 L12.16,-2.60 Q14.50,-2.60 14.50,0 Q14.50,2.60 12.16,2.60 L0,0.45 Z" fill="#1a1a1a" stroke="none" transform="translate(711.6,494.6) rotate(-90)"/>
<text x="712.5" y="338.3" font-family="Liberation Sans" font-size="18.5" text-anchor="middle" font-weight="normal" fill="#1e1e1e">1060</text>
<line x1="710.5" y1="220.4" x2="719.5" y2="220.4" stroke="#444" stroke-width="1.34" stroke-linecap="butt"/>
<line x1="504" y1="537.8" x2="529.3" y2="537.8" stroke="#444" stroke-width="1.22" stroke-linecap="butt"/>
<path d="M0,-0.45 L9.02,-2.20 Q11.00,-2.20 11.00,0 Q11.00,2.20 9.02,2.20 L0,0.45 Z" fill="#1a1a1a" stroke="none" transform="translate(529.3,537.8) rotate(180)"/>
<line x1="576.3" y1="537.8" x2="602.3" y2="537.8" stroke="#555" stroke-width="1.22" stroke-linecap="butt"/>
<path d="M0,-0.45 L9.02,-2.20 Q11.00,-2.20 11.00,0 Q11.00,2.20 9.02,2.20 L0,0.45 Z" fill="#1a1a1a" stroke="none" transform="translate(576.3,537.8) rotate(0)"/>
<text x="552.5" y="544.4" font-family="Liberation Sans" font-size="17.5" text-anchor="middle" font-weight="normal" fill="#1e1e1e">180</text>
<line x1="497" y1="566" x2="522" y2="566" stroke="#444" stroke-width="1.22" stroke-linecap="butt"/>
<path d="M0,-0.45 L9.02,-2.20 Q11.00,-2.20 11.00,0 Q11.00,2.20 9.02,2.20 L0,0.45 Z" fill="#1a1a1a" stroke="none" transform="translate(522,566) rotate(180)"/>
<line x1="582.6" y1="566" x2="609" y2="566" stroke="#555" stroke-width="1.22" stroke-linecap="butt"/>
<path d="M0,-0.45 L9.02,-2.20 Q11.00,-2.20 11.00,0 Q11.00,2.20 9.02,2.20 L0,0.45 Z" fill="#1a1a1a" stroke="none" transform="translate(582.6,566) rotate(0)"/>
<text x="552.5" y="572.7" font-family="Liberation Sans" font-size="17.5" text-anchor="middle" font-weight="normal" fill="#1e1e1e">230</text>
<line x1="740.6" y1="169.7" x2="740.6" y2="216" stroke="#333" stroke-width="1.34" stroke-linecap="butt"/>
<line x1="793" y1="169.7" x2="793" y2="212" stroke="#333" stroke-width="1.34" stroke-linecap="butt"/>
<line x1="693" y1="177.4" x2="740" y2="177.4" stroke="#333" stroke-width="1.34" stroke-linecap="butt"/>
<path d="M0,-0.45 L9.93,-2.30 Q12.00,-2.30 12.00,0 Q12.00,2.30 9.93,2.30 L0,0.45 Z" fill="#1a1a1a" stroke="none" transform="translate(740.3,177.4) rotate(180)"/>
<text x="711.5" y="174.2" font-family="Liberation Sans" font-size="18.3" text-anchor="middle" font-weight="normal" fill="#1e1e1e">130</text>
<line x1="794" y1="177.4" x2="856" y2="177.4" stroke="#333" stroke-width="1.34" stroke-linecap="butt"/>
<path d="M0,-0.45 L9.93,-2.30 Q12.00,-2.30 12.00,0 Q12.00,2.30 9.93,2.30 L0,0.45 Z" fill="#1a1a1a" stroke="none" transform="translate(793.3,177.4) rotate(0)"/>
<text x="831" y="174.2" font-family="Liberation Sans" font-size="18.3" text-anchor="middle" font-weight="normal" fill="#1e1e1e">10-70</text>
<circle cx="772.4" cy="177.4" r="3.6" fill="#1a1a1a" stroke="#1a1a1a" stroke-width="0"/>
<line x1="765" y1="177.4" x2="780" y2="177.4" stroke="#1a1a1a" stroke-width="1.22" stroke-linecap="butt"/>
<line x1="772.4" y1="170" x2="772.4" y2="203" stroke="#1a1a1a" stroke-width="1.22" stroke-linecap="butt"/>
<rect x="773.8" y="213.2" width="21" height="45.6" fill="#1c1c1c" stroke="#111" stroke-width="1" rx="0.8"/>
<line x1="779" y1="215" x2="779" y2="257" stroke="#3a3a3a" stroke-width="0.85" stroke-linecap="butt"/>
<line x1="783.5" y1="215" x2="783.5" y2="257" stroke="#3a3a3a" stroke-width="0.85" stroke-linecap="butt"/>
<line x1="788" y1="215" x2="788" y2="257" stroke="#3a3a3a" stroke-width="0.85" stroke-linecap="butt"/>
<line x1="792" y1="215" x2="792" y2="257" stroke="#3a3a3a" stroke-width="0.85" stroke-linecap="butt"/>
<rect x="774.6" y="216" width="1.6" height="2" fill="#ddd"/><rect x="774.6" y="254" width="1.6" height="2" fill="#ddd"/>
<path d="M760.6,480 L760.6,205.5 Q760.6,202.6 763.5,202.6 L773.2,202.6 L773.2,584" fill="none" stroke="#1a1a1a" stroke-width="1.8" stroke-linejoin="round"/>
<line x1="760.6" y1="479.8" x2="773.2" y2="479.8" stroke="#1a1a1a" stroke-width="1.4" stroke-linecap="butt"/>
<line x1="761.8" y1="480" x2="761.8" y2="514" stroke="#1a1a1a" stroke-width="1.3" stroke-linecap="butt"/>
<path d="M760.6,210.2 L752.5,210.2 Q749.8,210.2 749.8,213 L749.8,223 Q749.8,226.5 745,227.8 L740.5,228.2 L740.5,340.8" fill="none" stroke="#1a1a1a" stroke-width="1.7" stroke-linejoin="round"/>
<line x1="740.5" y1="231.8" x2="760.6" y2="231.8" stroke="#1a1a1a" stroke-width="1.8" stroke-linecap="butt"/>
<line x1="740.5" y1="267.6" x2="760.6" y2="267.6" stroke="#1a1a1a" stroke-width="1.8" stroke-linecap="butt"/>
<path d="M739,215.8 L748.5,220.8 L739,225.3 Z" fill="white" stroke="#1a1a1a" stroke-width="1.3" stroke-linejoin="round"/>
<path d="M724,218.2 L724,222.8 Q724.5,225 727.5,225 Q730.5,225 731,222.3 L732,221 Q735,219 739,220.5" fill="none" stroke="#1a1a1a" stroke-width="1.5" stroke-linejoin="round"/>
<circle cx="753" cy="221" r="0.8" fill="#444" stroke="#444" stroke-width="0"/>
<line x1="716" y1="221" x2="720.5" y2="221" stroke="#666" stroke-width="1.46" stroke-linecap="butt"/>
<rect x="744.5" y="239.5" width="11.5" height="13.5" rx="3" fill="#111"/>
<circle cx="747" cy="238.6" r="2.3" fill="#111" stroke="#1a1a1a" stroke-width="0"/>
<circle cx="752.6" cy="238.6" r="2.3" fill="#111" stroke="#1a1a1a" stroke-width="0"/>
<circle cx="747" cy="253.6" r="2.3" fill="#111" stroke="#1a1a1a" stroke-width="0"/>
<circle cx="752.6" cy="253.6" r="2.3" fill="#111" stroke="#1a1a1a" stroke-width="0"/>
<circle cx="746.6" cy="243" r="1.6" fill="#fff" stroke="#1a1a1a" stroke-width="0"/>
<circle cx="746.6" cy="249.6" r="1.6" fill="#fff" stroke="#1a1a1a" stroke-width="0"/>
<circle cx="754.3" cy="243.2" r="1.2" fill="#fff" stroke="#1a1a1a" stroke-width="0"/>
<circle cx="754.3" cy="249.6" r="1.2" fill="#fff" stroke="#1a1a1a" stroke-width="0"/>
<line x1="745.6" y1="268" x2="745.6" y2="341" stroke="#666" stroke-width="1.22" stroke-linecap="butt"/>
<line x1="751.6" y1="268" x2="751.6" y2="283" stroke="#666" stroke-width="1.22" stroke-linecap="butt"/>
<path d="M751.6,283 L758.8,283 L758.8,341" fill="none" stroke="#666" stroke-width="1.22" stroke-linejoin="round"/>
<line x1="751.6" y1="283" x2="751.6" y2="341" stroke="#888" stroke-width="1.22" stroke-linecap="butt"/>
<path d="M740.8,340.8 Q741,343.8 745,343.8 L760.6,343.8" fill="none" stroke="#1a1a1a" stroke-width="1.6" stroke-linejoin="round"/>
<path d="M741,343.8 L741,351 Q742,355 745,355.5 L749,358.8 L749,392 Q749,404 760.6,405.5" fill="none" stroke="#1a1a1a" stroke-width="1.6" stroke-linejoin="round"/>
<line x1="749" y1="360.2" x2="760.6" y2="360.2" stroke="#1a1a1a" stroke-width="1.6" stroke-linecap="butt"/>
<line x1="749" y1="372" x2="760.6" y2="372" stroke="#1a1a1a" stroke-width="1.6" stroke-linecap="butt"/>
<line x1="749" y1="382.2" x2="760.6" y2="382.2" stroke="#1a1a1a" stroke-width="2.4" stroke-linecap="butt"/>
<line x1="760.6" y1="210" x2="760.6" y2="480" stroke="#1a1a1a" stroke-width="1.8" stroke-linecap="butt"/>
<path d="M737.5,514 L737.5,450.4 C737.5,433 747,423 760.6,422.2" fill="none" stroke="#1a1a1a" stroke-width="1.8" stroke-linejoin="round"/>
<line x1="737.5" y1="450.4" x2="760.6" y2="450.4" stroke="#1a1a1a" stroke-width="2.8" stroke-linecap="butt"/>
<path d="M740,444.5 L748,444.5 L748,440.5 Q752,436.5 755,436 Q758,438 760,444" fill="none" stroke="#333" stroke-width="1.22" stroke-linejoin="round"/>
<path d="M736,475.6 L736,472.5 Q736,471.5 738,471.5 L760.6,471.5" fill="none" stroke="#1a1a1a" stroke-width="1.6" stroke-linejoin="round"/>
<line x1="736" y1="475.6" x2="760.6" y2="475.6" stroke="#444" stroke-width="1.22" stroke-linecap="butt"/>
<line x1="736" y1="488.8" x2="762" y2="488.8" stroke="#1a1a1a" stroke-width="2.0" stroke-linecap="butt"/>
<rect x="737" y="489" width="2.2" height="51" fill="#999"/>
<line x1="760.6" y1="450" x2="760.6" y2="514" stroke="#1a1a1a" stroke-width="1.4" stroke-linecap="butt"/>
<line x1="737" y1="514" x2="737" y2="540" stroke="#444" stroke-width="1.46" stroke-linecap="butt"/>
<line x1="735.6" y1="540" x2="735.6" y2="584" stroke="#444" stroke-width="1.46" stroke-linecap="butt"/>
<line x1="779.8" y1="494.8" x2="903.5" y2="494.8" stroke="#444" stroke-width="1.5" stroke-linecap="butt"/>
<line x1="773.2" y1="354" x2="795" y2="354" stroke="#333" stroke-width="1.34" stroke-linecap="butt"/>
<path d="M0,-0.45 L10.02,-2.20 Q12.00,-2.20 12.00,0 Q12.00,2.20 10.02,2.20 L0,0.45 Z" fill="#1a1a1a" stroke="none" transform="translate(773.6,354) rotate(0)"/>
<line x1="876" y1="354" x2="899" y2="354" stroke="#333" stroke-width="1.34" stroke-linecap="butt"/>
<path d="M0,-0.45 L10.02,-2.20 Q12.00,-2.20 12.00,0 Q12.00,2.20 10.02,2.20 L0,0.45 Z" fill="#1a1a1a" stroke="none" transform="translate(899,354) rotate(180)"/>
<text x="835.1" y="361.5" font-family="Liberation Sans" font-size="18" text-anchor="middle" font-weight="normal" fill="#1e1e1e">max.620</text>
<line x1="899.4" y1="348" x2="899.4" y2="392" stroke="#333" stroke-width="1.34" stroke-linecap="butt"/>
<line x1="773.2" y1="383.2" x2="899" y2="383.2" stroke="#2a2a2a" stroke-width="1.6" stroke-dasharray="13,4.8" stroke-dashoffset="6.4"/>
<line x1="773.2" y1="392" x2="899" y2="392" stroke="#2a2a2a" stroke-width="1.6" stroke-dasharray="6.6,22.8,13,4.8,13,4.8,13,4.8,13,4.8,13,4.8,13,4.8,13,4.8"/>
<path d="M899,392 C899,415 880,428 846,428.5 C822,429 808,420 801,407" fill="none" stroke="#333" stroke-width="1.5" stroke-dasharray="11,5" stroke-linejoin="round"/>
<path d="M878.4,423.7 L843,461.5 Q838,467.6 830,467.6" fill="none" stroke="#2a2a2a" stroke-width="1.6" stroke-dasharray="11,5" stroke-linejoin="round"/>
<path d="M859,428 L835,451.4 Q832,455 826,455" fill="none" stroke="#2a2a2a" stroke-width="1.6" stroke-dasharray="11,5" stroke-linejoin="round"/>
<line x1="838" y1="452" x2="846.5" y2="459.5" stroke="#333" stroke-width="1.46" stroke-linecap="butt"/>
<line x1="827" y1="455" x2="827" y2="467.6" stroke="#333" stroke-width="1.3" stroke-linecap="butt"/>
<line x1="773.2" y1="455" x2="776" y2="455" stroke="#2a2a2a" stroke-width="1.6" stroke-linecap="butt"/>
<line x1="780" y1="455" x2="791.2" y2="455" stroke="#2a2a2a" stroke-width="1.6" stroke-linecap="butt"/>
<line x1="797.6" y1="455" x2="813.6" y2="455" stroke="#2a2a2a" stroke-width="1.6" stroke-linecap="butt"/>
<line x1="819.6" y1="455" x2="830" y2="455" stroke="#2a2a2a" stroke-width="1.6" stroke-linecap="butt"/>
<line x1="773.2" y1="467.6" x2="776" y2="467.6" stroke="#2a2a2a" stroke-width="1.6" stroke-linecap="butt"/>
<line x1="779.6" y1="467.6" x2="792" y2="467.6" stroke="#2a2a2a" stroke-width="1.6" stroke-linecap="butt"/>
<line x1="797" y1="467.6" x2="814" y2="467.6" stroke="#2a2a2a" stroke-width="1.6" stroke-linecap="butt"/>
<line x1="819" y1="467.6" x2="830" y2="467.6" stroke="#2a2a2a" stroke-width="1.6" stroke-linecap="butt"/>
<line x1="783.9" y1="396" x2="783.9" y2="469" stroke="#2a2a2a" stroke-width="1.6" stroke-dasharray="11,5"/>
<path d="M784,393.5 L793,393.5 L795,398" fill="none" stroke="#333" stroke-width="1.46" stroke-linejoin="round"/>
<path d="M773.2,407.2 L806,407.2 Q808.7,407.2 808.7,408.7 Q808.7,410.2 806,410.2 L773.2,410.2" fill="none" stroke="#444" stroke-width="1.34" stroke-linejoin="round"/>
<line x1="800" y1="404.5" x2="806" y2="413" stroke="#444" stroke-width="1.22" stroke-linecap="butt"/>
<rect x="773.2" y="420" width="4" height="27" rx="1" fill="white" stroke="#1a1a1a" stroke-width="1.1"/>
<line x1="712" y1="538" x2="737" y2="538" stroke="#333" stroke-width="1.22" stroke-linecap="butt"/>
<path d="M0,-0.45 L9.02,-2.20 Q11.00,-2.20 11.00,0 Q11.00,2.20 9.02,2.20 L0,0.45 Z" fill="#1a1a1a" stroke="none" transform="translate(737,538) rotate(180)"/>
<line x1="773.2" y1="538" x2="867" y2="538" stroke="#333" stroke-width="1.22" stroke-linecap="butt"/>
<path d="M0,-0.45 L9.02,-2.20 Q11.00,-2.20 11.00,0 Q11.00,2.20 9.02,2.20 L0,0.45 Z" fill="#1a1a1a" stroke="none" transform="translate(773.2,538) rotate(0)"/>
<text x="827" y="535" font-family="Liberation Sans" font-size="18.2" text-anchor="middle" font-weight="normal" fill="#1e1e1e">135/155</text>
<text x="826.8" y="550.2" font-family="Liberation Sans" font-size="12.8" text-anchor="middle" font-weight="normal" fill="#444">(Ø90)</text>
<line x1="710" y1="577.6" x2="735.6" y2="577.6" stroke="#333" stroke-width="1.22" stroke-linecap="butt"/>
<path d="M0,-0.45 L9.02,-2.20 Q11.00,-2.20 11.00,0 Q11.00,2.20 9.02,2.20 L0,0.45 Z" fill="#1a1a1a" stroke="none" transform="translate(735.6,577.6) rotate(180)"/>
<line x1="773.2" y1="577.6" x2="870" y2="577.6" stroke="#333" stroke-width="1.22" stroke-linecap="butt"/>
<path d="M0,-0.45 L9.02,-2.20 Q11.00,-2.20 11.00,0 Q11.00,2.20 9.02,2.20 L0,0.45 Z" fill="#1a1a1a" stroke="none" transform="translate(773.2,577.6) rotate(0)"/>
<text x="829.2" y="574.6" font-family="Liberation Sans" font-size="18.2" text-anchor="middle" font-weight="normal" fill="#1e1e1e">145/165</text>
<text x="829.8" y="591" font-family="Liberation Sans" font-size="12.8" text-anchor="middle" font-weight="normal" fill="#444">(Ø110)</text>
</svg></body></html>
